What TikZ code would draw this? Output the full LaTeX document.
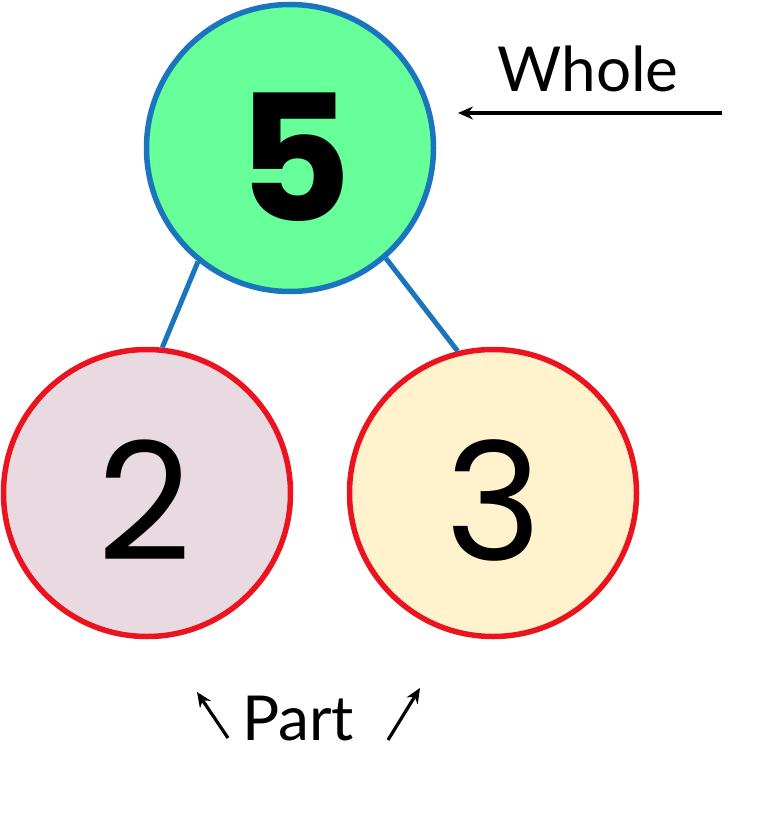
\documentclass[tikz,border=0pt]{standalone}
\usepackage{fontspec}
\setmainfont{Lato}
\newfontfamily\numfont{Poppins}
\usetikzlibrary{arrows.meta}
\definecolor{topfill}{RGB}{102,255,153}
\definecolor{topline}{RGB}{26,117,190}
\definecolor{leftfill}{RGB}{233,218,226}
\definecolor{rightfill}{RGB}{255,242,204}
\definecolor{partline}{RGB}{235,20,30}
\tikzset{
  wholecirc/.style={circle, draw=topline, fill=topfill, line width=5.5pt, minimum size=287pt, inner sep=0pt},
  partcirc/.style={circle, draw=partline, line width=5.5pt, minimum size=287pt, inner sep=0pt},
  link/.style={draw=topline, line width=5pt},
  pointer/.style={draw=black, line width=3.2pt, -{Stealth[length=15pt,width=13pt]}},
  lbl/.style={font=\fontsize{62}{68}\selectfont, inner sep=0pt, anchor=base},
  numlbl/.style={inner sep=0pt, anchor=base}
}
\begin{document}
\begin{tikzpicture}[x=1pt,y=-1pt]
\useasboundingbox (0,0) rectangle (780,818);
\node[wholecirc] (whole) at (290,148) {};
\node[partcirc, fill=leftfill] (left) at (147,493) {};
\node[partcirc, fill=rightfill] (right) at (493,493) {};
\node[numlbl] (five) at (295,222) {\numfont\bfseries\fontsize{176}{180}\selectfont 5};
\node[numlbl] (two) at (145,560) {\numfont\fontsize{164}{170}\selectfont 2};
\node[numlbl] (three) at (494,560) {\numfont\fontsize{164}{170}\selectfont 3};
\path[link] (whole.231) -- (left.84);
\path[link] (whole.311) -- (right.104);
\node[lbl] (wt) at (588,92) {Whole};
\node[lbl] (pt) at (298,740) {Part};
\coordinate (wa) at (722,113);
\coordinate (wb) at (458,113);
\draw[pointer] (wa) -- (wb);
\coordinate (la) at (228,738);
\coordinate (lb) at (197,692);
\draw[pointer] (la) -- (lb);
\coordinate (ra) at (388,740);
\coordinate (rb) at (420,688);
\draw[pointer] (ra) -- (rb);
\end{tikzpicture}
\end{document}
